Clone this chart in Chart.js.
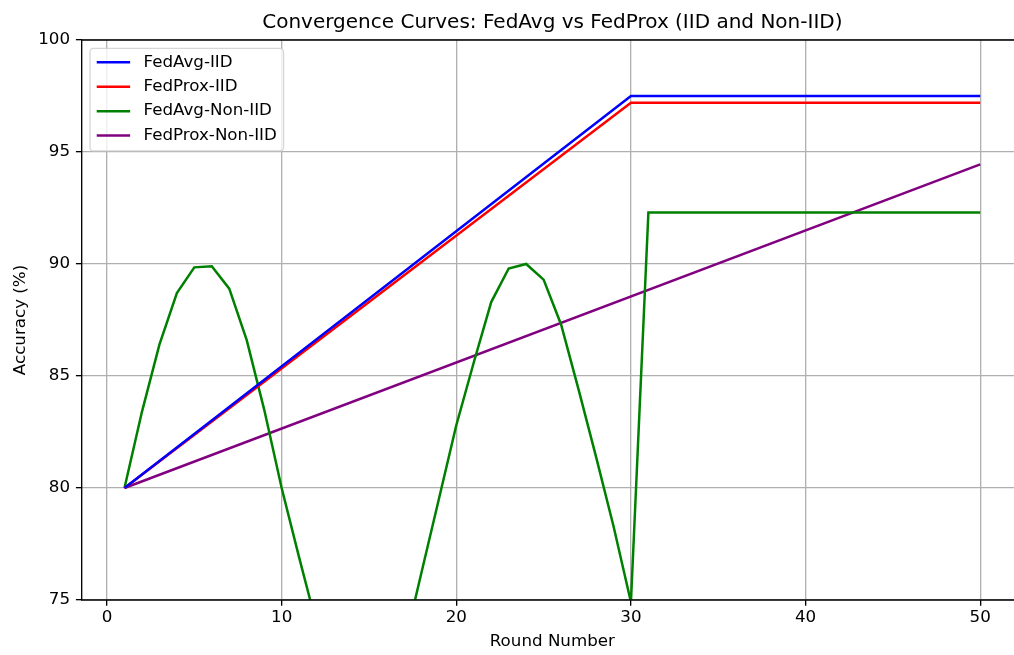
<!DOCTYPE html>
<html>
<head>
<meta charset="utf-8">
<script src="https://cdn.jsdelivr.net/npm/chart.js@4.4.0/dist/chart.umd.min.js"></script>
<style>
  html, body { margin: 0; padding: 0; background: #fff; overflow: hidden; }
  canvas { display: block; }
</style>
</head>
<body>
<canvas id="chart" width="1030" height="655"></canvas>
<script>
const xTicks = [0, 10, 20, 30, 40, 50];
const yTicks = [75, 80, 85, 90, 95, 100];

const fedAvgIidRounds = [1, 30, 50];
const fedAvgIidAcc = [80, 97.5, 97.5];

const fedProxIidRounds = [1, 30, 50];
const fedProxIidAcc = [80, 97.2, 97.2];

const fedAvgNonIidRounds = [
  1, 2, 3, 4, 5, 6, 7, 8, 9, 10, 11, 12, 13, 14, 15, 16, 17, 18, 19, 20, 21, 22, 23, 24, 25,
  26, 27, 28, 29, 30, 31, 32, 33, 34, 35, 36, 37, 38, 39, 40, 41, 42, 43, 44, 45, 46, 47, 48, 49, 50
];
const fedAvgNonIidAcc = [
  80.0, 83.4, 86.4, 88.7, 89.85, 89.9, 88.9, 86.6, 83.5, 80.0,
  76.9, 73.9, 71.5, 70.2, 70.0, 71.0, 72.9, 76.2, 79.5, 82.8,
  85.6, 88.3, 89.8, 90.0, 89.3, 87.3, 84.4, 81.4, 78.3, 74.9,
  92.3, 92.3, 92.3, 92.3, 92.3, 92.3, 92.3, 92.3, 92.3, 92.3,
  92.3, 92.3, 92.3, 92.3, 92.3, 92.3, 92.3, 92.3, 92.3, 92.3
];

const fedProxNonIidRounds = [1, 50];
const fedProxNonIidAcc = [80, 94.45];

const FONT = '"DejaVu Sans", sans-serif';

function points(xs, ys) {
  return xs.map((x, i) => ({ x: x, y: ys[i] }));
}

function series(label, color, xs, ys) {
  return {
    label: label,
    data: points(xs, ys),
    borderColor: color,
    backgroundColor: color,
    borderWidth: 2.5,
    pointRadius: 0,
    tension: 0,
    fill: false,
    clip: 0,
  };
}

// all four spines like matplotlib (right one falls outside the window)
const spines = {
  id: 'spines',
  afterDatasetsDraw(chart) {
    const { ctx, chartArea: a } = chart;
    ctx.save();
    ctx.strokeStyle = '#000';
    ctx.lineWidth = 1.33;
    ctx.beginPath();
    ctx.moveTo(a.left, a.top); ctx.lineTo(a.right, a.top);
    ctx.lineTo(a.right, a.bottom); ctx.lineTo(a.left, a.bottom);
    ctx.closePath();
    ctx.stroke();
    ctx.restore();
  }
};

// legend in upper left, inside the axes
const legendBox = {
  id: 'legendBox',
  afterDatasetsDraw(chart) {
    const { ctx, chartArea: a } = chart;
    const fs = 16.7;
    const sets = chart.data.datasets;
    ctx.save();
    ctx.font = fs + 'px ' + FONT;
    const textW = Math.max(...sets.map(d => ctx.measureText(d.label).width));
    const pad = 0.4 * fs, handle = 2 * fs, gap = 0.8 * fs, rowH = 24.4;
    const x0 = a.left + 0.5 * fs, y0 = a.top + 0.5 * fs;
    const w = pad * 2 + handle + gap + textW;
    const h = 102.6;
    const r = 3.5;
    ctx.beginPath();
    ctx.moveTo(x0 + r, y0);
    ctx.arcTo(x0 + w, y0, x0 + w, y0 + h, r);
    ctx.arcTo(x0 + w, y0 + h, x0, y0 + h, r);
    ctx.arcTo(x0, y0 + h, x0, y0, r);
    ctx.arcTo(x0, y0, x0 + w, y0, r);
    ctx.closePath();
    ctx.fillStyle = 'rgba(255,255,255,0.8)';
    ctx.fill();
    ctx.strokeStyle = 'rgba(204,204,204,0.8)';
    ctx.lineWidth = 1.33;
    ctx.stroke();

    ctx.textBaseline = 'middle';
    ctx.textAlign = 'left';
    sets.forEach((d, i) => {
      const cy = y0 + 14 + i * rowH;
      ctx.strokeStyle = d.borderColor;
      ctx.lineWidth = 2.5;
      ctx.beginPath();
      ctx.moveTo(x0 + pad, cy);
      ctx.lineTo(x0 + pad + handle, cy);
      ctx.stroke();
      ctx.fillStyle = '#000';
      ctx.fillText(d.label, x0 + pad + handle + gap, cy);
    });
    ctx.restore();
  }
};

const ctx = document.getElementById('chart').getContext('2d');
new Chart(ctx, {
  type: 'line',
  data: {
    datasets: [
      series('FedAvg-IID', '#0000ff', fedAvgIidRounds, fedAvgIidAcc),
      series('FedProx-IID', '#ff0000', fedProxIidRounds, fedProxIidAcc),
      series('FedAvg-Non-IID', '#008000', fedAvgNonIidRounds, fedAvgNonIidAcc),
      series('FedProx-Non-IID', '#800080', fedProxNonIidRounds, fedProxNonIidAcc),
    ]
  },
  options: {
    responsive: false,
    animation: false,
    devicePixelRatio: 1,
    layout: { padding: { left: 0, right: 7, top: 0, bottom: 0 } },
    plugins: {
      legend: { display: false },
      tooltip: { enabled: false },
      title: {
        display: true,
        fullSize: false,
        text: 'Convergence Curves: FedAvg vs FedProx (IID and Non-IID)',
        color: '#000',
        font: { family: FONT, size: 20, weight: 'normal', lineHeight: 1.2 },
        padding: { top: 10.5, bottom: 5.5 }
      }
    },
    scales: {
      x: {
        type: 'linear',
        min: -1.45,
        max: 52.45,
        afterBuildTicks: s => { s.ticks = xTicks.map(v => ({ value: v })); },
        border: { display: false },
        grid: { color: '#b0b0b0', lineWidth: 1.33, tickColor: '#000', tickWidth: 1.33, tickLength: 5.8 },
        ticks: { color: '#000', font: { family: FONT, size: 16.7, lineHeight: 1 }, padding: 4, maxRotation: 0, autoSkip: false },
        title: {
          display: true, text: 'Round Number', color: '#000',
          font: { family: FONT, size: 16.7, lineHeight: 1.2 },
          padding: { top: 1.5, bottom: 3 }
        }
      },
      y: {
        type: 'linear',
        min: 75,
        max: 100,
        afterBuildTicks: s => { s.ticks = yTicks.map(v => ({ value: v })); },
        border: { display: false },
        grid: { color: '#b0b0b0', lineWidth: 1.33, tickColor: '#000', tickWidth: 1.33, tickLength: 5.8 },
        ticks: { color: '#000', font: { family: FONT, size: 16.7, lineHeight: 1.2 }, padding: 5.8, autoSkip: false },
        title: {
          display: true, text: 'Accuracy (%)', color: '#000',
          font: { family: FONT, size: 16.7, lineHeight: 1.2 },
          padding: { top: 10.5, bottom: 1.9 }
        }
      }
    }
  },
  plugins: [spines, legendBox]
});
</script>
</body>
</html>
